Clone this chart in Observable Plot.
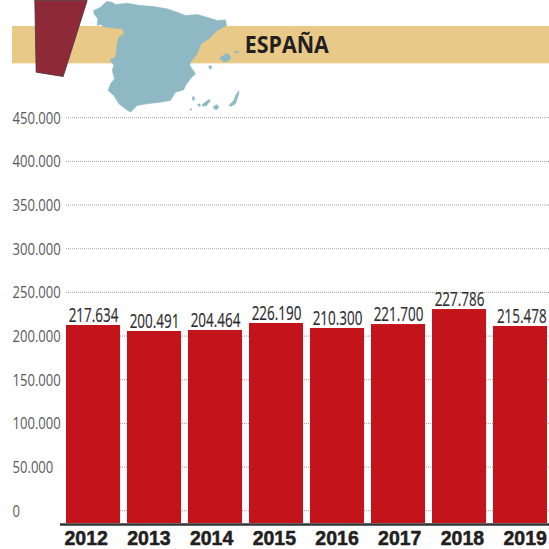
<!DOCTYPE html>
<html><head><meta charset="utf-8">
<script src="https://cdn.jsdelivr.net/npm/d3@7"></script>
<script src="https://cdn.jsdelivr.net/npm/@observablehq/plot@0.6"></script>
<style>html,body{margin:0;padding:0;background:#fff}svg{display:block}</style>
</head><body><div id="chart"></div>
<script>
const years = [2012,2013,2014,2015,2016,2017,2018,2019];
const printedValues = [217634,200491,204464,226190,210300,221700,227786,215478];
// bars as actually drawn in the picture, read against the gridlines (not proportional to labels)
const barLevels = [212100,205250,206400,214400,208700,213200,230400,211000];
const gridTicks = [450000,400000,350000,300000,250000,200000,150000,100000,50000,0];
const title = "ESPAÑA";
const baseLevel = -14612;

// traced outlines, in reference units (3 units per pixel)
const mainland = [[280,30],[300,20],[318,3],[335,5],[345,12],[380,8],[420,15],[460,18],[500,25],[530,35],[555,45],[590,42],[625,52],[650,60],[675,58],[678,75],[650,90],[625,115],[602,130],[590,160],[570,185],[568,195],[585,220],[570,235],[555,255],[550,268],[525,275],[510,300],[480,305],[440,310],[410,315],[390,335],[375,325],[355,310],[340,285],[323,270],[330,250],[342,235],[335,210],[340,195],[328,178],[345,170],[350,130],[355,110],[372,100],[365,85],[315,80],[300,72],[290,75],[292,55],[280,40]];
const mallorca = [[660,170],[680,158],[692,170],[685,180],[672,185],[658,175]];
const menorca = [[702,152],[715,153],[712,158],[702,156]];
const ibiza = [[625,197],[632,195],[633,205],[626,205]];
const fuerteventura = [[685,315],[700,300],[705,285],[715,270],[715,280],[705,310],[692,317]];
const granCanaria = [[640,317],[650,312],[655,322],[648,328],[640,324]];
const tenerife = [[605,312],[625,297],[630,300],[618,315],[608,318]];
const gomera = [[592,312],[598,310],[600,316],[594,318]];
const laPalma = [[575,290],[581,288],[582,298],[577,300]];
const hierro = [[568,327],[573,324],[573,330]];
const wedge = [[103,0],[260,0],[188,228],[107,215]];

const shapes = [mainland,mallorca,menorca,ibiza,fuerteventura,granCanaria,tenerife,gomera,laPalma,hierro];
const mapPts = shapes.flatMap((s,i)=>s.concat([s[0]]).map(p=>({x:p[0],y:p[1],z:i})));
const wedgePts = wedge.concat([wedge[0]]).map(p=>({x:p[0],y:p[1]}));
const bars = years.map((y,i)=>({year:y,level:barLevels[i],printed:printedValues[i]}));
const fmt = v => String(v).replace(/\B(?=(\d{3})+$)/g,".");

const humanist = "'Open Sans','Noto Sans',sans-serif";

const decoration = () => Plot.plot({
  width:549,height:549,margin:0,
  x:{domain:[0,1647],range:[0,549],axis:null},
  y:{domain:[0,1647],range:[0,549],axis:null},
  marks:[
    Plot.rect([{x1:36,x2:1647,y1:78,y2:190}],{x1:"x1",x2:"x2",y1:"y1",y2:"y2",fill:"#e8c987"}),
    Plot.line(wedgePts,{x:"x",y:"y",fill:"#8e2a38",stroke:"#4a3034",strokeWidth:0.8,curve:"linear"}),
    Plot.line(mapPts,{x:"x",y:"y",z:"z",fill:"#8db8c4",stroke:"#8db8c4",strokeWidth:0.5,curve:"linear"}),
    Plot.text([title],{x:733,y:135,text:d=>d,textAnchor:"start",fill:"#231f20",fontSize:23,fontWeight:700,fontFamily:humanist,className:"squeeze-title"})
  ]
});

const chart = Plot.plot({
  width:549,height:549,
  marginLeft:0,marginRight:0,marginTop:0,marginBottom:26,
  x:{domain:[2010.475,2019.475],axis:null},
  y:{domain:[baseLevel,584247],axis:null},
  marks:[
    decoration,
    Plot.ruleY(gridTicks,{stroke:"#a0a0a0",strokeWidth:1,strokeDasharray:"1 1",insetLeft:66}),
    Plot.text(gridTicks,{y:d=>d,text:fmt,frameAnchor:"left",textAnchor:"start",dx:12,dy:0.5,fill:"#58585a",fontSize:17,fontFamily:humanist,className:"squeeze-tick"}),
    Plot.rect(bars,{x1:d=>d.year-0.443,x2:d=>d.year+0.443,y1:baseLevel,y2:"level",fill:"#c4141b"}),
    Plot.text(bars,{x:d=>d.year+(d.year===2019?0.02:0),y:"level",text:d=>fmt(d.printed),dy:-10,fill:"#2c2c30",stroke:"#2c2c30",strokeWidth:0.2,fontSize:19.5,fontFamily:humanist,className:"squeeze-value"}),
    Plot.ruleY([baseLevel],{stroke:"#333",strokeWidth:2.5,insetLeft:60,dy:1}),
    Plot.text(years,{x:d=>d*1.028-2012*0.028-0.12,y:baseLevel,text:d=>String(d),dy:15,fill:"#231f20",stroke:"#231f20",strokeWidth:0.5,fontSize:19.5,fontWeight:700,fontFamily:"'Liberation Sans',sans-serif"})
  ]
});
document.getElementById("chart").append(chart);

// the reference's type is condensed: squeeze glyphs horizontally, keeping them real text
function squeeze(sel, k){
  chart.querySelectorAll(sel).forEach(t=>{
    const base = t.getAttribute("transform") || "";
    t.setAttribute("transform", `${base} scale(${k},1)`.trim());
  });
}
squeeze(".squeeze-tick text",0.77);
squeeze(".squeeze-value text",0.69);
squeeze(".squeeze-title text",0.93);
</script></body></html>
